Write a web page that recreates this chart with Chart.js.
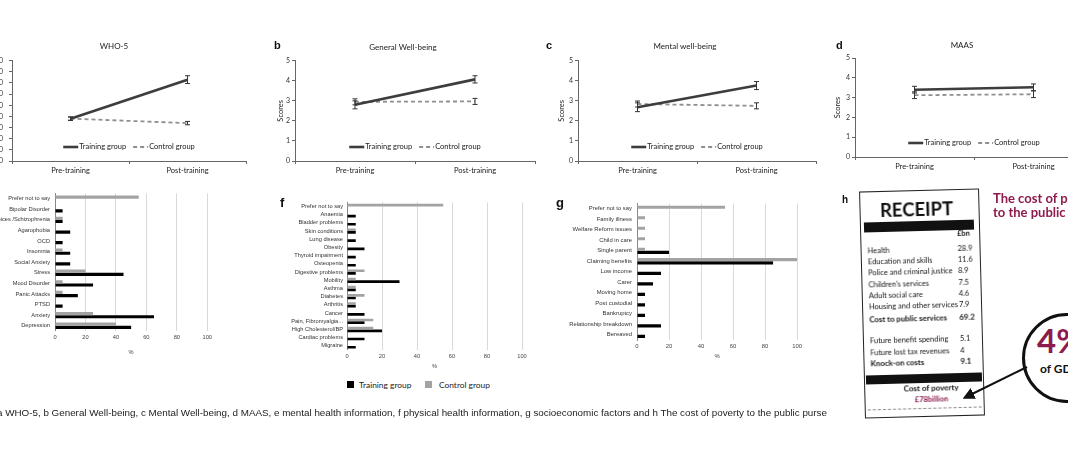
<!DOCTYPE html>
<html>
<head>
<meta charset="utf-8">
<script src="https://cdn.jsdelivr.net/npm/chart.js@4.4.0/dist/chart.umd.min.js"></script>
<style>
  html, body { margin: 0; padding: 0; background: #fff; }
  body { width: 1068px; height: 449px; overflow: hidden; position: relative; font-family: Lato, sans-serif; color: #222; }
  .box { position: absolute; }
  .box canvas { display: block; }
  .c { position: absolute; transform: translate(-50%, -50%); white-space: nowrap; }
  .l { position: absolute; transform: translate(0, -50%); white-space: nowrap; }
  .letter { font-family: "Liberation Sans", Arial, sans-serif; font-weight: bold; color: #111; }
  .sq { position: absolute; width: 7px; height: 7px; }
  #receipt { position: absolute; left: 862px; top: 190px; width: 118px; height: 225px; border: 1.3px solid #222; background: #fff; transform: rotate(-1.5deg); will-change: transform; font-family: Lato, sans-serif; color: #111; }
  #receipt .row { position: absolute; left: 6px; font-size: 7.5px; white-space: nowrap; transform: translateY(-50%); }
  #receipt .val { position: absolute; left: 96px; font-size: 7.5px; transform: translateY(-50%); }
  .maroon { color: #8e1b4e; }
</style>
</head>
<body>

<!-- line chart panels -->
<div class="box" style="left:-30px;top:35px;width:285px;height:150px"><canvas id="who5"></canvas></div>
<div class="box" style="left:260px;top:35px;width:290px;height:150px"><canvas id="gwb"></canvas></div>
<div class="box" style="left:540px;top:35px;width:290px;height:150px"><canvas id="mwb"></canvas></div>
<div class="box" style="left:815px;top:32px;width:290px;height:150px"><canvas id="maas"></canvas></div>

<!-- bar chart panels -->
<div class="box" style="left:0px;top:185px;width:215px;height:175px"><canvas id="mental"></canvas></div>
<div class="box" style="left:260px;top:195px;width:270px;height:180px"><canvas id="physical"></canvas></div>
<div class="box" style="left:560px;top:195px;width:245px;height:170px"><canvas id="socio"></canvas></div>

<!-- titles and panel letters -->
<div class="c" style="left:114px;top:46px;font-size:8px">WHO-5</div>
<div class="c" style="left:403px;top:46.5px;font-size:8px">General Well-being</div>
<div class="c" style="left:685px;top:46px;font-size:8px">Mental well-being</div>
<div class="c" style="left:962px;top:45px;font-size:8px">MAAS</div>
<div class="l letter" style="left:274px;top:45px;font-size:11px">b</div>
<div class="l letter" style="left:546px;top:45px;font-size:11px">c</div>
<div class="l letter" style="left:836px;top:45px;font-size:11px">d</div>
<div class="l letter" style="left:280px;top:202px;font-size:13px">f</div>
<div class="l letter" style="left:556px;top:202px;font-size:13px">g</div>
<div class="l letter" style="left:842px;top:199px;font-size:10px">h</div>

<!-- shared legend -->
<div class="sq" style="left:347px;top:381px;background:#000"></div>
<div class="l" id="leg0" style="left:359px;top:384.5px;font-size:8.4px"></div>
<div class="sq" style="left:425px;top:381px;background:#a3a3a3"></div>
<div class="l" id="leg1" style="left:439px;top:384.5px;font-size:8.4px"></div>

<!-- panel h -->
<div id="receipt"></div>
<div class="l maroon" style="left:993px;top:198px;font-size:13px;font-weight:bold">The cost of poverty</div>
<div class="l maroon" style="left:993px;top:211.5px;font-size:13px;font-weight:bold">to the public purse</div>
<div style="position:absolute;left:1022px;top:313px;width:84px;height:84px;border:3px solid #111;border-radius:50%;background:#fff"></div>
<div class="l maroon" style="left:1037px;top:340px;font-size:33px;font-weight:bold">4%</div>
<div class="l" style="left:1040px;top:368px;font-size:12px;font-weight:bold;color:#111">of GDP</div>
<svg style="position:absolute;left:0;top:0" width="1068" height="449">
  <defs><marker id="ah" markerWidth="6" markerHeight="6" refX="3" refY="3" orient="auto"><path d="M0,0 L6,3 L0,6 z" fill="#111"/></marker></defs>
  <line x1="1027" y1="367" x2="968" y2="396" stroke="#111" stroke-width="2" marker-end="url(#ah)"/>
</svg>

<div id="caption" class="l" style="left:-3px;top:413px;font-family:'Liberation Sans',Arial,sans-serif;font-size:9px;color:#222;transform-origin:0 50%"></div>

<script>
// shared
const timepoints = ['Pre-training', 'Post-training'];
const seriesNames = ['Training group', 'Control group'];

// a WHO-5 (0-90)
const whoTraining = [38, 73];
const whoTrainingErr = [1.5, 3.5];
const whoControl = [38, 34];
const whoControlErr = [1.5, 1.5];

// b General Well-being
const gwbTraining = [2.8, 4.07];
const gwbTrainingErr = [0.2, 0.18];
const gwbControl = [2.95, 2.97];
const gwbControlErr = [0.15, 0.15];

// c Mental well-being
const mwbTraining = [2.68, 3.76];
const mwbTrainingErr = [0.22, 0.2];
const mwbControl = [2.84, 2.75];
const mwbControlErr = [0.15, 0.15];

// d MAAS
const maasTraining = [3.4, 3.52];
const maasTrainingErr = [0.17, 0.17];
const maasControl = [3.12, 3.17];
const maasControlErr = [0.17, 0.17];

// e mental health information (%)
const mentalLabels = ['Prefer not to say', 'Bipolar Disorder', 'Voices /Schizophrenia', 'Agarophobia', 'OCD', 'Insomnia',
  'Social Anxiety', 'Stress', 'Mood Disorder', 'Panic Attacks', 'PTSD', 'Anxiety', 'Depression'];
const mentalTraining = [0, 5, 5, 10, 5, 10, 10, 45, 25, 15, 5, 65, 50];
const mentalControl = [55, 0, 5, 0, 0, 5, 0, 20, 5, 5, 0, 25, 40];

// f physical health information (%)
const physicalLabels = ['Prefer not to say', 'Anaemia', 'Bladder problems', 'Skin conditions', 'Lung disease', 'Obesity',
  'Thyroid impairment', 'Osteopenia', 'Digestive problems', 'Mobility', 'Asthma', 'Diabetes', 'Arthritis', 'Cancer',
  'Pain, Fibromyalgia...', 'High Cholesterol/BP', 'Cardiac problems', 'Migraine'];
const physicalTraining = [0, 5, 5, 5, 5, 10, 5, 5, 5, 30, 5, 5, 5, 10, 10, 20, 10, 5];
const physicalControl = [55, 0, 0, 5, 0, 0, 0, 0, 10, 5, 5, 10, 5, 0, 15, 15, 0, 0];

// g socioeconomic factors (%)
const socioLabels = ['Prefer not to say', 'Family illness', 'Welfare Reform issues', 'Child in care', 'Single parent',
  'Claiming benefits', 'Low income', 'Carer', 'Moving home', 'Post custodial', 'Bankruptcy', 'Relationship breakdown', 'Bereaved'];
const socioTraining = [0, 0, 0, 0, 20, 85, 15, 10, 5, 5, 5, 15, 5];
const socioControl = [55, 5, 5, 5, 5, 100, 0, 0, 0, 0, 0, 0, 0];

// h receipt (£bn)
const serviceItems = ['Health', 'Education and skills', 'Police and criminal justice', "Children's services", 'Adult social care', 'Housing and other services'];
const serviceValues = ['28.9', '11.6', '8.9', '7.5', '4.6', '7.9'];
const serviceTotal = '69.2';
const knockOnItems = ['Future benefit spending', 'Future lost tax revenues'];
const knockOnValues = ['5.1', '4'];
const knockOnTotal = '9.1';

const caption = 'a WHO-5, b General Well-being, c Mental Well-being, d MAAS, e mental health information, f physical health information, g socioeconomic factors and h The cost of poverty to the public purse';

Chart.defaults.font.family = 'Lato';
Chart.defaults.color = '#333';

// draw +/- error bars for every point
const errorBars = {
  id: 'errorBars',
  afterDatasetsDraw(chart) {
    const ctx = chart.ctx;
    const y = chart.scales.y;
    chart.data.datasets.forEach((ds, di) => {
      const meta = chart.getDatasetMeta(di);
      ctx.save();
      ctx.strokeStyle = '#333';
      ctx.lineWidth = 1;
      meta.data.forEach((pt, i) => {
        const top = y.getPixelForValue(ds.data[i] + ds.err[i]);
        const bot = y.getPixelForValue(ds.data[i] - ds.err[i]);
        ctx.beginPath();
        ctx.moveTo(pt.x, top); ctx.lineTo(pt.x, bot);
        ctx.moveTo(pt.x - 2.5, top); ctx.lineTo(pt.x + 2.5, top);
        ctx.moveTo(pt.x - 2.5, bot); ctx.lineTo(pt.x + 2.5, bot);
        ctx.stroke();
      });
      ctx.restore();
    });
  }
};

// legend sitting inside the plot, near the bottom
const innerLegend = {
  id: 'innerLegend',
  afterDraw(chart) {
    const { ctx, chartArea } = chart;
    const ds = chart.data.datasets;
    ctx.save();
    ctx.font = '7.5px Lato';
    const sample = 15, spacing = 7;
    const widths = ds.map(d => sample + 1 + ctx.measureText(d.label).width);
    const total = widths.reduce((a, b) => a + b, 0) + spacing;
    let x = (chartArea.left + chartArea.right) / 2 - total / 2;
    const y = chartArea.bottom - 14;
    ds.forEach((d, i) => {
      ctx.strokeStyle = d.borderColor;
      ctx.lineWidth = d.borderWidth;
      ctx.setLineDash(d.borderDash || []);
      ctx.beginPath(); ctx.moveTo(x, y); ctx.lineTo(x + sample, y); ctx.stroke();
      ctx.setLineDash([]);
      ctx.fillStyle = '#222';
      ctx.textBaseline = 'middle';
      ctx.fillText(d.label, x + sample + 1, y);
      x += widths[i] + spacing;
    });
    ctx.restore();
  }
};

function lineChart(id, o) {
  return new Chart(document.getElementById(id), {
    type: 'line',
    data: {
      labels: timepoints,
      datasets: [
        { label: seriesNames[0], data: o.training, err: o.trainingErr, borderColor: '#3d3d3d', borderWidth: 2.6, pointRadius: 0 },
        { label: seriesNames[1], data: o.control, err: o.controlErr, borderColor: '#8f8f8f', borderWidth: 1.8, borderDash: [4, 3], pointRadius: 0 }
      ]
    },
    options: {
      responsive: true,
      maintainAspectRatio: false,
      animation: false,
      layout: { padding: o.padding },
      plugins: { legend: { display: false }, tooltip: { enabled: false } },
      scales: {
        x: {
          offset: true,
          grid: { offset: true, drawOnChartArea: false, tickLength: 3, color: '#666' },
          border: { color: '#666' },
          ticks: { font: { size: 7.5 }, color: '#222', padding: 2 },
          afterFit: s => { s.height = o.xh; }
        },
        y: {
          min: 0,
          max: o.max,
          ticks: { stepSize: o.step, autoSkip: false, font: { size: 7 }, color: '#333', padding: o.tickPad || 2 },
          grid: { drawOnChartArea: false, tickLength: 3, color: '#666' },
          border: { color: '#666' },
          title: o.yTitle
            ? { display: true, text: 'Scores', font: { size: 7.5 }, color: '#222', padding: { top: o.titlePad, bottom: 0 } }
            : { display: false },
          afterFit: s => { s.width = o.yw; }
        }
      }
    },
    plugins: [errorBars, innerLegend]
  });
}

function barChart(id, o) {
  const font = { family: 'Liberation Sans', size: o.fs };
  return new Chart(document.getElementById(id), {
    type: 'bar',
    data: {
      labels: o.labels,
      datasets: [
        { label: seriesNames[1], data: o.control, backgroundColor: '#a3a3a3' },
        { label: seriesNames[0], data: o.training, backgroundColor: '#000' }
      ]
    },
    options: {
      indexAxis: 'y',
      responsive: true,
      maintainAspectRatio: false,
      animation: false,
      layout: { padding: o.padding },
      datasets: { bar: { categoryPercentage: o.cat, barPercentage: 1 } },
      plugins: { legend: { display: false }, tooltip: { enabled: false } },
      scales: {
        x: {
          min: 0,
          max: 100,
          ticks: { stepSize: 20, font, color: '#444', padding: 3 },
          grid: { color: '#d9d9d9', drawTicks: false },
          border: { display: false },
          title: { display: true, text: '%', font, color: '#444', padding: { top: 0, bottom: o.pctPad } },
          afterFit: s => { s.height = o.xh; }
        },
        y: {
          grid: { display: false, drawTicks: false },
          border: { display: true, color: '#888' },
          ticks: { autoSkip: false, font, color: '#333', padding: o.labelPad },
          afterFit: s => { s.width = o.yw; }
        }
      }
    }
  });
}

lineChart('who5', { training: whoTraining, trainingErr: whoTrainingErr, control: whoControl, controlErr: whoControlErr,
  max: 90, step: 10, yw: 42, xh: 24, tickPad: 6, padding: { top: 25.7, right: 9 } });
lineChart('gwb', { training: gwbTraining, trainingErr: gwbTrainingErr, control: gwbControl, controlErr: gwbControlErr,
  max: 5, step: 1, yw: 35, xh: 24, yTitle: true, titlePad: 16.5, padding: { top: 25.7, right: 15 } });
lineChart('mwb', { training: mwbTraining, trainingErr: mwbTrainingErr, control: mwbControl, controlErr: mwbControlErr,
  max: 5, step: 1, yw: 38, xh: 24, yTitle: true, titlePad: 17.5, padding: { top: 25.7, right: 14 } });
lineChart('maas', { training: maasTraining, trainingErr: maasTrainingErr, control: maasControl, controlErr: maasControlErr,
  max: 5, step: 1, yw: 40, xh: 25, yTitle: true, titlePad: 18.5, padding: { top: 26, right: 12 } });

barChart('mental', { labels: mentalLabels, training: mentalTraining, control: mentalControl,
  fs: 5.7, cat: 0.6, yw: 55, xh: 29, pctPad: 4.6, labelPad: 5, padding: { top: 7, right: 7 } });
barChart('physical', { labels: physicalLabels, training: physicalTraining, control: physicalControl,
  fs: 5.7, cat: 0.65, yw: 87, xh: 25, pctPad: 5.6, labelPad: 4, padding: { top: 7, right: 8 } });
barChart('socio', { labels: socioLabels, training: socioTraining, control: socioControl,
  fs: 5.9, cat: 0.6, yw: 77, xh: 25, pctPad: 4.6, labelPad: 5, padding: { top: 7, right: 6 } });

document.getElementById('leg0').textContent = seriesNames[0];
document.getElementById('leg1').textContent = seriesNames[1];

// receipt for panel h
const receipt = document.getElementById('receipt');
let html = '<div class="c" style="left:56px;top:18px;font-size:18.5px;font-weight:bold;color:#111">RECEIPT</div>';
html += '<div style="position:absolute;left:3px;top:30px;width:110px;height:10px;background:#111"></div>';
html += '<div class="val" style="top:43px;font-weight:bold">£bn</div>';
serviceItems.forEach((item, i) => {
  const y = 58 + i * 11.2;
  html += `<div class="row" style="top:${y}px">${item}</div><div class="val" style="top:${y}px">${serviceValues[i]}</div>`;
});
html += `<div class="row" style="top:127px;font-weight:bold;font-size:7.8px">Cost to public services</div><div class="val" style="top:127px;font-weight:bold;font-size:7.8px">${serviceTotal}</div>`;
knockOnItems.forEach((item, i) => {
  const y = 148 + i * 11.5;
  html += `<div class="row" style="top:${y}px">${item}</div><div class="val" style="top:${y}px">${knockOnValues[i]}</div>`;
});
html += `<div class="row" style="top:171px;font-weight:bold;font-size:7.8px">Knock-on costs</div><div class="val" style="top:171px;font-weight:bold;font-size:7.8px">${knockOnTotal}</div>`;
html += '<div style="position:absolute;left:1px;top:183px;width:116px;height:9px;background:#111"></div>';
html += '<div class="c" style="left:66px;top:197px;font-size:8px;font-weight:bold;color:#111">Cost of poverty</div>';
html += '<div class="c maroon" style="left:66px;top:208px;font-size:7.5px;font-weight:bold">£78billion</div>';
html += '<div style="position:absolute;left:2px;top:217px;width:114px;border-top:1px dashed #888"></div>';
receipt.innerHTML = html;

// caption squeezed to the reference width
const cap = document.getElementById('caption');
cap.textContent = caption;
const w = cap.getBoundingClientRect().width;
cap.style.transform = `translate(0, -50%) scaleX(${830 / w})`;
</script>
</body>
</html>
